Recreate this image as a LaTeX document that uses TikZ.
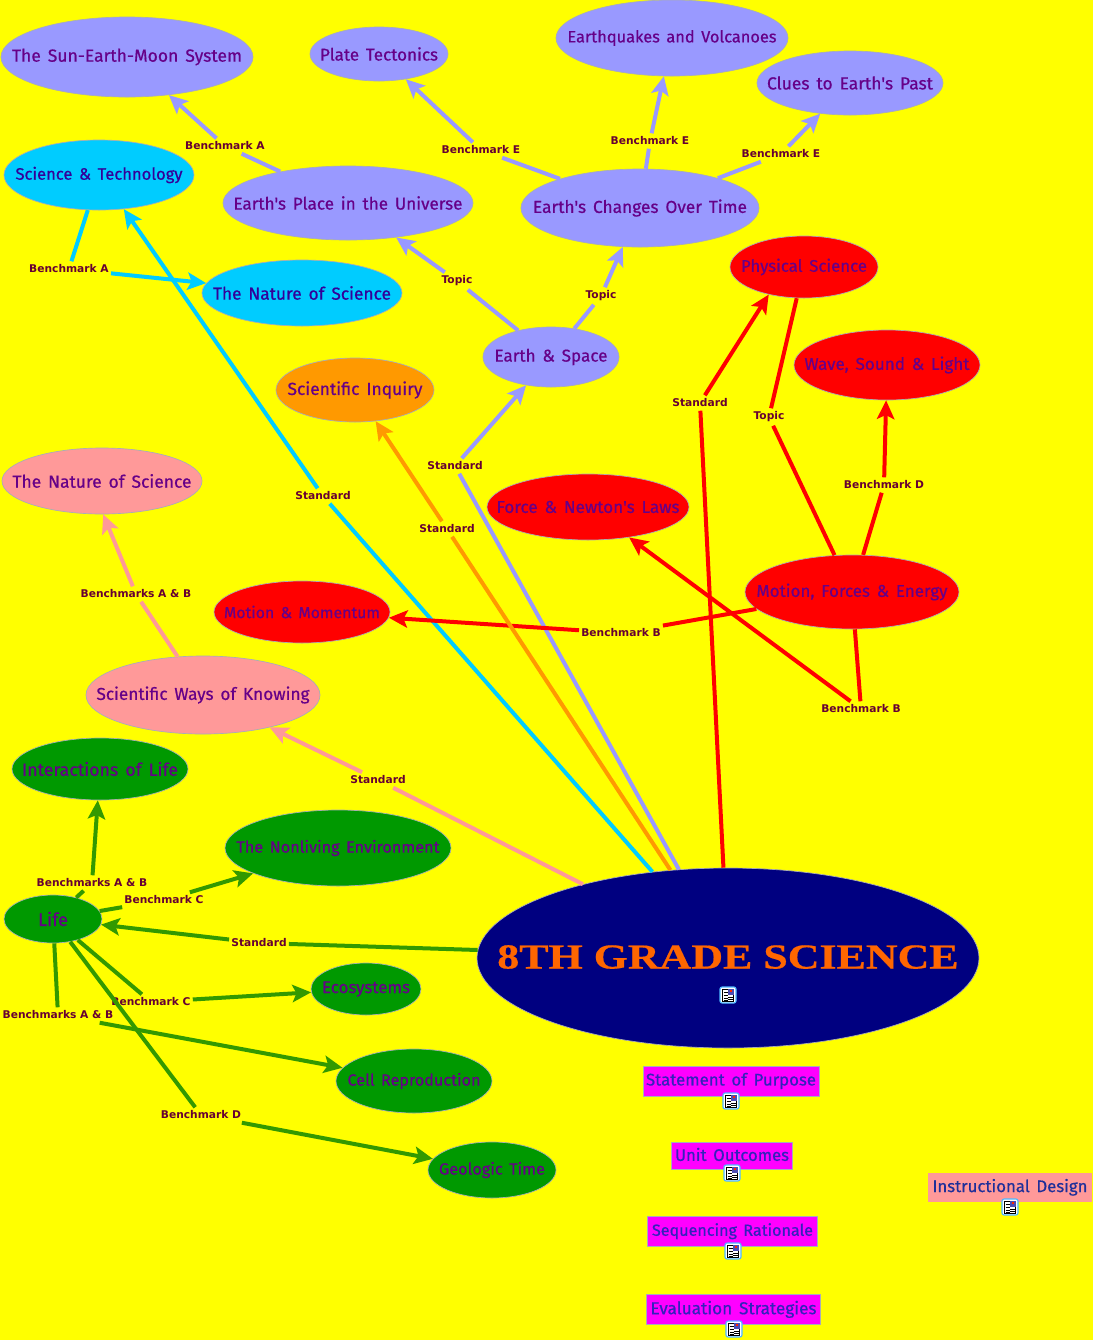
\documentclass[tikz,border=0pt]{standalone}
\usepackage{fontspec}
\usepackage{graphicx}
\usetikzlibrary{shapes.geometric,arrows.meta}
\newfontfamily\bodyfont{Fira Sans}[FakeBold=0.6,WordSpace=1.5]
\newfontfamily\lblfont{DejaVu Sans}
\newfontfamily\titlefont{Liberation Serif}[FakeBold=0.5]
\definecolor{bgy}{RGB}{255,255,0}
\definecolor{mgn}{RGB}{255,0,255}
\definecolor{rd}{RGB}{255,0,0}
\definecolor{peri}{HTML}{9999FF}
\definecolor{cyn}{HTML}{00CCFF}
\definecolor{grn}{HTML}{009900}
\definecolor{lgrn}{HTML}{339900}
\definecolor{pnk}{HTML}{FF9999}
\definecolor{org}{HTML}{FF9900}
\definecolor{navy}{HTML}{000080}
\definecolor{txtp}{HTML}{660088}
\definecolor{txtb}{HTML}{330099}
\definecolor{lbl}{HTML}{660033}
\definecolor{rtxt}{HTML}{3322BB}
\definecolor{dtxt}{HTML}{1F2F99}
\definecolor{ttl}{HTML}{FF6600}
\definecolor{edge}{HTML}{A8ACB8}
\newcommand{\T}[2]{\makebox[0pt]{\resizebox{\dimexpr 0.75pt*#1\relax}{!}{#2}}}
\newcommand{\B}[2]{\resizebox{\dimexpr 0.75pt*#1\relax}{!}{#2}}
\tikzset{
 sz/.style 2 args={minimum width=#1*1.5pt,minimum height=#2*1.5pt},
 ell/.style={ellipse,draw=edge,line width=0.5pt,inner sep=0pt,text=txtp,font=\bodyfont\fontsize{13.2pt}{15pt}\selectfont},
 ebl/.style={ell,fill=peri},
 ecy/.style={ell,fill=cyn,text=txtb},
 ere/.style={ell,fill=rd},
 eor/.style={ell,fill=org},
 epk/.style={ell,fill=pnk},
 egr/.style={ell,fill=grn},
 box/.style={rectangle,draw=edge,line width=0.6pt,inner sep=0pt,text=rtxt,fill=mgn,font=\bodyfont\fontsize{12.8pt}{15pt}\selectfont},
 lab/.style={inner xsep=1.5pt,inner ysep=2.5pt,yshift=-0.75pt,text=lbl,font=\lblfont\bfseries\fontsize{8pt}{10pt}\selectfont},
 con/.style={line width=3pt},
 arr/.style={con,-{Stealth[length=14pt,width=13pt,inset=3pt]}},
 pics/docicon/.style={code={
  \filldraw[fill=white,draw=blue!40!cyan!70!white,line width=0.8pt,rounded corners=1.5pt] (-8,-8) rectangle (8,8);
  \filldraw[fill=white,draw=black,line width=0.5pt] (-5.5,-6) rectangle (5.5,6.5);
  \fill[blue!40!gray] (0,-6) rectangle (5.5,-0.5);
  \fill[rd!70!orange] (2,-5) rectangle (4,-3);
  \foreach \yy in {-3,0,3,5}{\draw[black,line width=0.6pt] (-4.5,\yy) -- (-0.5,\yy);}
  \foreach \yy in {2,4}{\draw[black,line width=0.6pt] (-0.5,\yy) -- (4.5,\yy);}
 }}
}
\begin{document}
\begin{tikzpicture}[x=0.75pt,y=-0.75pt]
\fill[bgy] (0,0) rectangle (1093,1340);
\useasboundingbox (0,0) rectangle (1093,1340);
% nodes
\node[ebl,sz={126}{40}] (sun) at (127,57) {\T{230}{The Sun-Earth-Moon System}};
\node[ebl,sz={69}{27}] (plate) at (379,54) {\T{118}{Plate Tectonics}};
\node[ebl,sz={116}{38}] (quake) at (672,38) {\T{209}{Earthquakes and Volcanoes}};
\node[ebl,sz={93}{32}] (clues) at (850,83) {\T{166}{Clues to Earth's Past}};
\node[ecy,sz={95}{35}] (scitech) at (99,175) {\T{167}{Science \& Technology}};
\node[ebl,sz={125}{37}] (eplace) at (348,203) {\T{229}{Earth's Place in the Universe}};
\node[ebl,sz={119}{39}] (echange) at (640,208) {\T{214}{Earth's Changes Over Time}};
\node[ecy,sz={100}{33}] (natblue) at (302,293) {\T{178}{The Nature of Science}};
\node[ere,sz={74}{31}] (phys) at (804,267) {\T{126}{Physical Science}};
\node[ere,sz={93}{35}] (wave) at (887,365) {\T{165}{Wave, Sound \& Light}};
\node[ebl,sz={68}{30}] (espace) at (551,357) {\T{113}{Earth \& Space}};
\node[eor,sz={79}{32}] (inq) at (355,390) {\T{135}{Scientific Inquiry}};
\node[epk,sz={100}{33}] (natpink) at (102,481) {\T{179}{The Nature of Science}};
\node[ere,sz={101}{33}] (force) at (588,507) {\T{183}{Force \& Newton's Laws}};
\node[ere,sz={88}{31}] (moment) at (302,612) {\T{156}{Motion \& Momentum}};
\node[ere,sz={107}{37}] (mfe) at (852,592) {\T{191}{Motion, Forces \& Energy}};
\node[epk,sz={117}{39}] (ways) at (203,695) {\T{213}{Scientific Ways of Knowing}};
\node[egr,sz={88}{31}] (inter) at (100,769) {\T{156}{Interactions of Life}};
\node[egr,sz={113}{38}] (nonliv) at (338,848) {\T{203}{The Nonliving Environment}};
\node[egr,sz={49}{24}] (life) at (53,919) {\T{30}{Life}};
\node[egr,sz={55}{26}] (eco) at (366,989) {\T{88}{Ecosystems}};
\node[egr,sz={78}{32}] (cell) at (414,1081) {\T{133}{Cell Reproduction}};
\node[egr,sz={64}{28}] (geo) at (492,1170) {\T{106}{Geologic Time}};
\node[ell,fill=navy,sz={251}{90}] (main) at (728,958) {};
\node[text=ttl,inner sep=0pt] (title) at (728,957) {\resizebox{346pt}{17.5pt}{\titlefont\bfseries 8TH GRADE SCIENCE}};
% boxes
\node[box,minimum width=132pt,minimum height=22pt] (purpose) at (731,1081.5) {\raisebox{3.5pt}{\B{170}{Statement of Purpose}}};
\node[box,minimum width=91pt,minimum height=20pt] (outcomes) at (732,1156) {\raisebox{2.5pt}{\B{114}{Unit Outcomes}}};
\node[box,minimum width=127pt,minimum height=22pt] (rationale) at (732.5,1231.5) {\raisebox{3pt}{\B{161}{Sequencing Rationale}}};
\node[box,minimum width=130pt,minimum height=22pt] (eval) at (733.5,1309.5) {\raisebox{3pt}{\B{166}{Evaluation Strategies}}};
\node[box,fill=pnk,draw=none,text=dtxt,minimum width=123pt,minimum height=22pt] (design) at (1010,1187.5) {\raisebox{3pt}{\B{155}{Instructional Design}}};
\pic at (728,995) {docicon};
\pic at (731,1101) {docicon};
\pic at (732,1173) {docicon};
\pic at (733,1251) {docicon};
\pic at (734,1329) {docicon};
\pic at (1010,1207) {docicon};
% labels
\node[lab] (l1) at (225,145) {Benchmark A};
\node[lab] (l2) at (481,149) {Benchmark E};
\node[lab] (l3) at (650,140) {Benchmark E};
\node[lab] (l4) at (781,153) {Benchmark E};
\node[lab] (l5) at (69,268) {Benchmark A};
\node[lab] (l6) at (457,280) {Topic};
\node[lab] (l7) at (601,295) {Topic};
\node[lab] (l8) at (700,402) {Standard};
\node[lab] (l9) at (769,416) {Topic};
\node[lab] (l10) at (884,484) {Benchmark D};
\node[lab] (l11) at (455,465) {Standard};
\node[lab] (l12) at (323,495) {Standard};
\node[lab] (l13) at (447,528) {Standard};
\node[lab] (l14) at (136,593) {Benchmarks A \& B};
\node[lab] (l15) at (621,632) {Benchmark B};
\node[lab] (l16) at (861,708) {Benchmark B};
\node[lab] (l17) at (378,779) {Standard};
\node[lab] (l18) at (92,882) {Benchmarks A \& B};
\node[lab] (l19) at (164,899) {Benchmark C};
\node[lab] (l20) at (259,942) {Standard};
\node[lab] (l21) at (151,1001) {Benchmark C};
\node[lab] (l22) at (58,1014) {Benchmarks A \& B};
\node[lab] (l23) at (201,1114) {Benchmark D};
% connectors
\begin{scope}[peri]
\draw[con] (eplace) -- (l1); \draw[arr] (l1) -- (sun);
\draw[con] (echange) -- (l2); \draw[arr] (l2) -- (plate);
\draw[con] (echange) -- (l3); \draw[arr] (l3) -- (quake);
\draw[con] (echange) -- (l4); \draw[arr] (l4) -- (clues);
\draw[con] (espace) -- (l6); \draw[arr] (l6) -- (eplace);
\draw[con] (espace) -- (l7); \draw[arr] (l7) -- (echange);
\draw[con] (main) -- (l11); \draw[arr] (l11) -- (espace);
\end{scope}
\begin{scope}[cyn]
\draw[con] (scitech) -- (l5); \draw[arr] (l5) -- (natblue);
\draw[con] (main) -- (l12); \draw[arr] (l12) -- (scitech.306);
\end{scope}
\begin{scope}[rd]
\draw[con] (main) -- (l8); \draw[arr] (l8) -- (phys.218);
\draw[con] (phys) -- (l9); \draw[con] (l9) -- (mfe);
\draw[con] (mfe) -- (l10); \draw[arr] (l10) -- (wave);
\draw[con] (mfe) -- (l15); \draw[arr] (l15) -- (moment);
\draw[con] (mfe) -- (l16); \draw[arr] (l16) -- (force);
\end{scope}
\begin{scope}[org]
\draw[con] (main) -- (l13); \draw[arr] (l13) -- (inq);
\end{scope}
\begin{scope}[pnk]
\draw[con] (main) -- (l17); \draw[arr] (l17) -- (ways);
\draw[con] (ways) -- (l14); \draw[arr] (l14) -- (natpink.272);
\end{scope}
\begin{scope}[lgrn]
\draw[con] (main) -- (l20); \draw[arr] (l20) -- (life);
\draw[con] (life) -- (l18); \draw[arr] (l18) -- (inter);
\draw[con] (life) -- (l19); \draw[arr] (l19) -- (nonliv);
\draw[con] (life) -- (l21); \draw[arr] (l21) -- (eco);
\draw[con] (life) -- (l22); \draw[arr] (l22) -- (cell);
\draw[con] (life) -- (l23); \draw[arr] (l23) -- (geo);
\end{scope}
\end{tikzpicture}
\end{document}
